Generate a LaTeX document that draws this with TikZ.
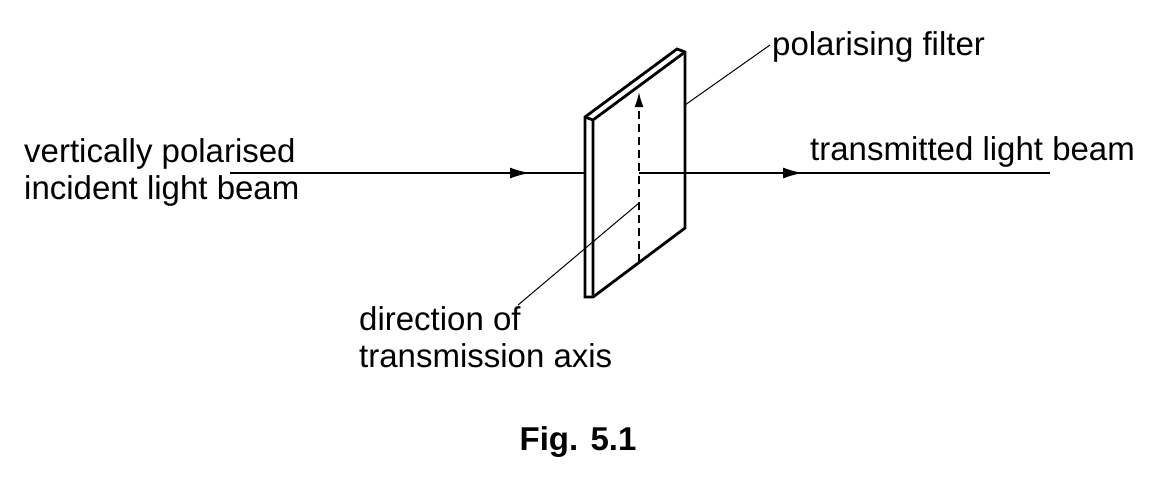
\documentclass[tikz,border=0pt]{standalone}
\usepackage{fontspec}
\setmainfont{Liberation Sans}
\usetikzlibrary{arrows.meta}
\begin{document}
\begin{tikzpicture}[x=1pt,y=-1pt,
  edge/.style={line width=2.8pt,line join=miter},
  beam/.style={line width=2pt},
  lead/.style={line width=1pt},
  lbl/.style={font=\fontsize{33}{37}\selectfont,inner sep=0pt},
  tip/.style={-{Latex[length=20pt,width=11pt]}}]
\useasboundingbox (0,0) rectangle (1160,491);
% filter
\coordinate (A) at (593,120); \coordinate (B) at (685,52);
\coordinate (C) at (685,228); \coordinate (D) at (593,297);
\coordinate (A2) at (585,117); \coordinate (B2) at (677,49);
\coordinate (D2) at (585,297);
\draw[edge,fill=white] (A2)--(B2)--(B)--(C)--(D)--(D2)--cycle;
\draw[edge] (A2)--(A)--(B) (A)--(D);
% beam
\coordinate (L0) at (230,173); \coordinate (L1) at (585,173);
\coordinate (La) at (530,173);
\coordinate (R0) at (639,173); \coordinate (R1) at (1050,173);
\coordinate (Ra) at (803,173);
\draw[beam] (L0)--(L1);
\draw[beam,tip] (L0)--(La);
\draw[beam] (R0)--(R1);
\draw[beam,tip] (R0)--(Ra);
% axis
\coordinate (X0) at (639,262); \coordinate (X1) at (639,92);
\draw[line width=1.6pt,dash pattern=on 8pt off 5pt,-{Latex[length=15pt,width=9pt]}] (X0)--(X1);
% leaders
\coordinate (P0) at (685,105); \coordinate (P1) at (770,45);
\draw[lead] (P0)--(P1);
\coordinate (Q0) at (639,203); \coordinate (Q1) at (518,305);
\draw[lead] (Q0)--(Q1);
% labels
\node[lbl,anchor=west] (pf) at (772,47) {polarising filter};
\node[lbl,anchor=west,align=left] (vp) at (24,172) {vertically polarised\\incident light beam};
\node[lbl,anchor=west] (tl) at (810,152) {transmitted light beam};
\node[lbl,anchor=west,align=left] (dt) at (359,337) {direction of\\transmission axis};
\node[lbl,font=\fontsize{33}{37}\selectfont\bfseries] (fig) at (578,442) {Fig. 5.1};
\end{tikzpicture}
\end{document}
